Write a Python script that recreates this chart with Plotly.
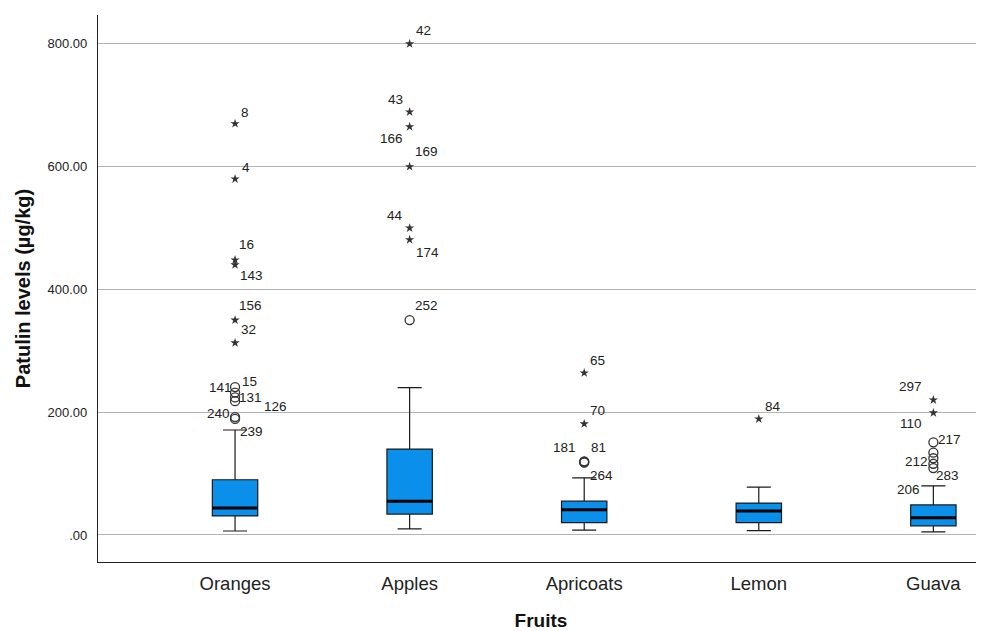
import plotly.graph_objects as go

# ---------------- data ----------------
fruits = ["Oranges", "Apples", "Apricoats", "Lemon", "Guava"]
lower_whisker = [6.5, 10, 8, 7, 5]
q1 = [31, 34, 20, 20, 15]
median = [44, 55, 41, 39, 28]
q3 = [90, 140, 55, 52, 49]
upper_whisker = [171, 240, 93, 78, 80]

# outliers per fruit: (case id, value, kind)  kind: 'o' = outlier, '*' = extreme
out_oranges = [("8", 670, "*"), ("4", 580, "*"), ("16", 448, "*"), ("143", 440, "*"),
               ("156", 350, "*"), ("32", 313, "*"), ("141", 241, "o"), ("15", 232, "o"),
               ("131", 224, "o"), ("126", 218, "o"), ("240", 192, "o"), ("239", 189, "o")]
out_apples = [("42", 800, "*"), ("43", 689, "*"), ("166", 665, "*"), ("169", 600, "*"),
              ("44", 500, "*"), ("174", 481, "*"), ("252", 350, "o")]
out_apricoats = [("65", 264, "*"), ("70", 181, "*"), ("181", 120, "o"), ("81", 119, "o"),
                 ("264", 118, "o")]
out_lemon = [("84", 189, "*")]
out_guava = [("297", 220, "*"), ("110", 199, "*"), ("217", 151, "o"), ("212", 134, "o"),
             ("?", 125, "o"), ("283", 116, "o"), ("206", 109, "o")]
outliers = [out_oranges, out_apples, out_apricoats, out_lemon, out_guava]

y_ticks = [0, 200, 400, 600, 800]
y_tick_labels = [".00", "200.00", "400.00", "600.00", "800.00"]

# ---------------- label placement (style) ----------------
# (side, xshift, yshift) per outlier label
label_pos = {
    "8": ("left", 4, 11), "4": ("left", 5, 11), "16": ("left", 2, 15), "143": ("left", 3, -11),
    "156": ("left", 2, 15), "32": ("left", 4, 13), "141": ("right", -1, 0), "15": ("left", 5, 11),
    "131": ("left", 2, 0), "126": ("left", 27, -5), "240": ("right", -3, 4), "239": ("left", 3, -13),
    "42": ("left", 4, 13), "43": ("right", -5, 13), "166": ("right", -5, -12), "169": ("left", 3, 15),
    "44": ("right", -5, 13), "174": ("left", 4, -13), "252": ("left", 3, 15),
    "65": ("left", 4, 12), "70": ("left", 4, 13), "181": ("right", -6, 14), "81": ("left", 5, 14),
    "264": ("left", 4, -13),
    "84": ("left", 4, 12),
    "297": ("right", -9, 13), "110": ("right", -9, -11), "217": ("left", 3, 3), "212": ("right", -3, -9),
    "283": ("left", 1, -12), "206": ("right", -11, -21),
}

BOX_W = 0.26
FILL = "#0A8FEA"
FONT = "Liberation Sans, Arial, sans-serif"

fig = go.Figure()

xs = list(range(len(fruits)))
for i, f in enumerate(fruits):
    fig.add_trace(go.Box(
        x=[i], q1=[q1[i]], median=[median[i]], q3=[q3[i]],
        lowerfence=[lower_whisker[i]], upperfence=[upper_whisker[i]],
        width=BOX_W, whiskerwidth=0.53, fillcolor=FILL,
        line=dict(color="#1a1a1a", width=1.2), boxpoints=False,
        showlegend=False, hoverinfo="skip",
    ))
    # thick median line
    fig.add_trace(go.Scatter(
        x=[i - BOX_W / 2, i + BOX_W / 2], y=[median[i], median[i]], mode="lines",
        line=dict(color="black", width=3), showlegend=False, hoverinfo="skip",
    ))
    # outliers
    circ = [o for o in outliers[i] if o[2] == "o"]
    star = [o for o in outliers[i] if o[2] == "*"]
    if circ:
        fig.add_trace(go.Scatter(
            x=[i] * len(circ), y=[o[1] for o in circ], mode="markers",
            marker=dict(symbol="circle-open", size=9, color="#333333", line=dict(width=1.3)),
            showlegend=False, hoverinfo="skip",
        ))
    if star:
        fig.add_trace(go.Scatter(
            x=[i] * len(star), y=[o[1] for o in star], mode="markers",
            marker=dict(symbol="star", size=7, color="#333333", line=dict(width=0)),
            showlegend=False, hoverinfo="skip",
        ))
    for cid, val, kind in outliers[i]:
        if cid not in label_pos:
            continue
        side, dx, dy = label_pos[cid]
        fig.add_annotation(
            x=i, y=val, text=cid, showarrow=False, xanchor=side, yanchor="middle",
            xshift=dx, yshift=dy, font=dict(family=FONT, size=13.5, color="#222222"),
        )

# the page body adds an 8px offset; compensate so the plot lands where the reference has it
fig.update_layout(
    width=976, height=623,
    margin=dict(l=90, r=0, t=7, b=69),
    plot_bgcolor="white", paper_bgcolor="white",
    font=dict(family=FONT, color="#222222"),
    xaxis=dict(
        range=[-0.785, 4.29], tickmode="array", tickvals=xs, ticktext=fruits,
        showgrid=False, zeroline=False, showline=True, linecolor="#222222", linewidth=1.2,
        ticks="outside", ticklen=5, tickcolor="rgba(0,0,0,0)",
        tickfont=dict(family=FONT, size=18.5, color="#222222"),
        title=dict(text="<b>Fruits</b>", font=dict(family=FONT, size=19, color="#111111"), standoff=22),
    ),
    yaxis=dict(
        range=[-44, 847], tickmode="array", tickvals=y_ticks, ticktext=y_tick_labels,
        showgrid=True, gridcolor="#b4b4b4", gridwidth=1, zeroline=False,
        showline=True, linecolor="#222222", linewidth=1.2,
        ticks="outside", ticklen=7, tickcolor="rgba(0,0,0,0)",
        tickfont=dict(family=FONT, size=13, color="#222222"),
        title=dict(text="<b>Patulin levels (µg/kg)</b>", font=dict(family=FONT, size=20, color="#111111"), standoff=11),
    ),
)

fig.write_html("out.html")
